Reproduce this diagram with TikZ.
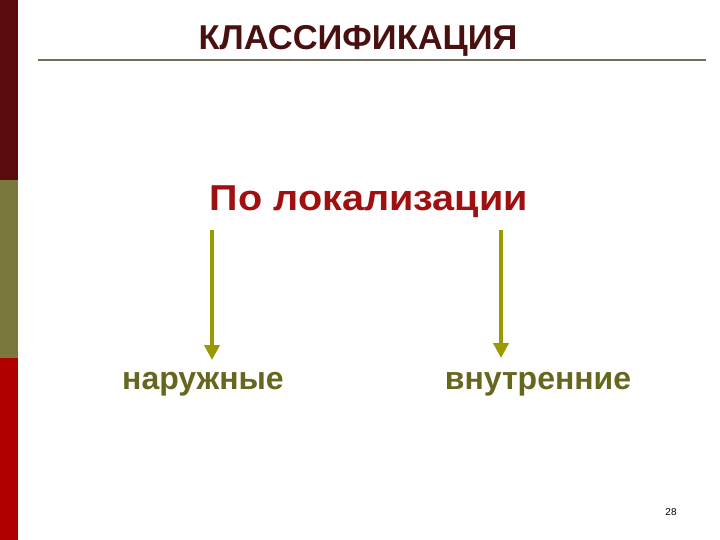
\documentclass[tikz,border=0pt]{standalone}
\usepackage{fontspec}
\setmainfont{Liberation Sans}
\usetikzlibrary{arrows.meta}
\definecolor{barA}{HTML}{5A0C0C}
\definecolor{barB}{HTML}{7A783C}
\definecolor{barC}{HTML}{B00000}
\definecolor{titlec}{HTML}{4A1010}
\definecolor{rulec}{HTML}{707058}
\definecolor{headc}{HTML}{A01010}
\definecolor{arrc}{HTML}{9A9A00}
\definecolor{labc}{HTML}{66661E}
\tikzset{
  lab/.style={text=labc,font=\bfseries\fontsize{32}{34}\selectfont,inner sep=0pt},
  arr/.style={draw=arrc,line width=4pt,-{Triangle[width=15pt,length=15pt]}}
}
\begin{document}
\begin{tikzpicture}[x=1pt,y=-1pt]
\useasboundingbox (0,0) rectangle (720,540);
\fill[white] (0,0) rectangle (720,540);
\fill[barA] (0,0) rectangle (18,180);
\fill[barB] (0,180) rectangle (18,358);
\fill[barC] (0,358) rectangle (18,540);
\node[text=titlec,font=\bfseries\fontsize{34.5}{36}\selectfont,inner sep=0pt,anchor=base] (title) at (358,50) {КЛАССИФИКАЦИЯ};
\coordinate (rl) at (38,60);
\coordinate (rr) at (706,60);
\draw[rulec,line width=2pt] (rl) -- (rr);
\node[text=headc,font=\bfseries\fontsize{36}{38}\selectfont,inner sep=0pt] (head) at (369,202) {\scalebox{1.1}[1]{По локализации}};
\coordinate (s1) at (212,230);
\coordinate (e1) at (212,360);
\coordinate (s2) at (501,230);
\coordinate (e2) at (501,358);
\draw[arr] (s1) -- (e1);
\draw[arr] (s2) -- (e2);
\node[lab] (nar) at (203,384) {наружные};
\node[lab] (vnu) at (538,384) {внутренние};
\node[font=\fontsize{10}{12}\selectfont,inner sep=0pt] (pg) at (671,512) {28};
\end{tikzpicture}
\end{document}
